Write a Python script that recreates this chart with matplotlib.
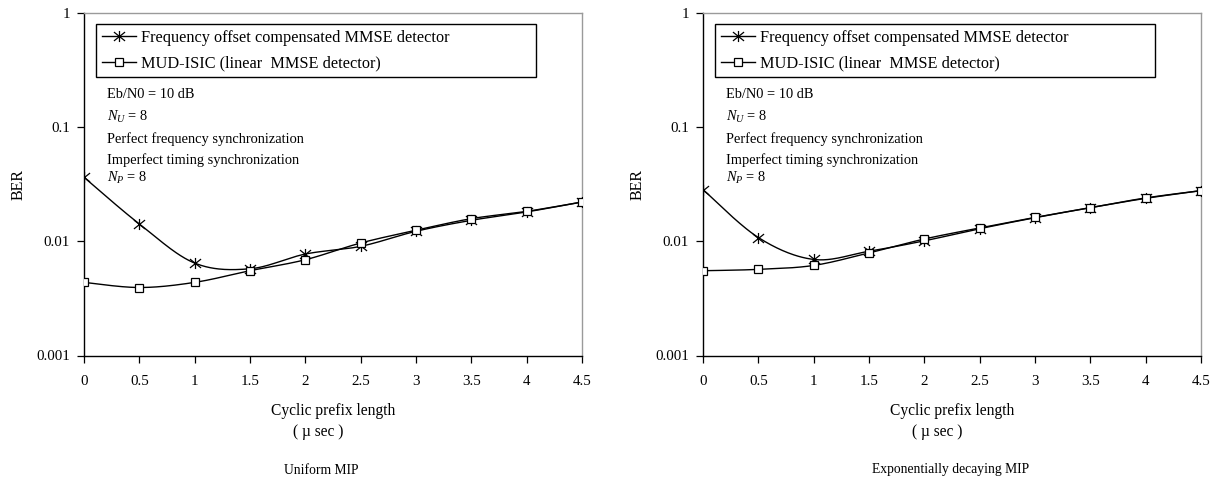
import numpy as np
import matplotlib
matplotlib.use("Agg")
import matplotlib.pyplot as plt
from matplotlib.path import Path
from matplotlib.lines import Line2D

# Cyclic prefix length (micro-seconds)
cp_length = [0, 0.5, 1, 1.5, 2, 2.5, 3, 3.5, 4, 4.5]

# Uniform MIP
uniform_fo_mmse = [0.0364, 0.0142, 0.00645, 0.00575, 0.00774, 0.00904, 0.01225, 0.01528, 0.0181, 0.0221]
uniform_mud_isic = [0.00437, 0.00394, 0.00437, 0.00553, 0.0069, 0.00967, 0.0125, 0.0158, 0.0183, 0.0221]

# Exponentially decaying MIP
expo_fo_mmse = [0.0284, 0.0108, 0.00694, 0.00819, 0.0101, 0.0129, 0.0161, 0.0197, 0.0238, 0.0278]
expo_mud_isic = [0.00553, 0.00568, 0.00615, 0.00792, 0.01048, 0.0131, 0.0162, 0.0197, 0.0240, 0.0278]

series_labels = ["Frequency offset compensated MMSE detector",
                 "MUD-ISIC (linear  MMSE detector)"]
panel_titles = ["Uniform MIP", "Exponentially decaying MIP"]
y_ticks = [0.001, 0.01, 0.1, 1]
y_tick_labels = ["0.001", "0.01", "0.1", "1"]
x_tick_labels = ["0", "0.5", "1", "1.5", "2", "2.5", "3", "3.5", "4", "4.5"]
notes = ["Eb/N0 = 10 dB", r"$N_U$ = 8", "Perfect frequency synchronization",
         "Imperfect timing synchronization", r"$N_P$ = 8"]

W, H = 1223, 484
plt.rcParams["font.family"] = ["Liberation Serif", "DejaVu Serif"]
plt.rcParams["mathtext.fontset"] = "custom"
plt.rcParams["mathtext.it"] = "Liberation Serif:italic"
plt.rcParams["mathtext.rm"] = "Liberation Serif"

# asterisk-like marker: an X with a vertical stroke
star_path = Path(
    [(-1, -0.8), (1, 0.8), (-1, 0.8), (1, -0.8), (0, -1), (0, 1)],
    [Path.MOVETO, Path.LINETO, Path.MOVETO, Path.LINETO, Path.MOVETO, Path.LINETO],
)


def smooth_curve(xs, ys, n=40):
    """Smoothed line through the points (Bezier, tension 1/6) in x / log10(y) space."""
    x = np.asarray(xs, float)
    ly = np.log10(np.asarray(ys, float))
    P = np.column_stack([x, ly])
    m = len(P)
    out = []
    t = np.linspace(0, 1, n)[:, None]
    for i in range(m - 1):
        p0 = P[i - 1] if i > 0 else P[i]
        p1, p2 = P[i], P[i + 1]
        p3 = P[i + 2] if i + 2 < m else P[i + 1]
        c1 = p1 + (p2 - p0) / 6.0
        c2 = p2 - (p3 - p1) / 6.0
        seg = ((1 - t) ** 3) * p1 + 3 * ((1 - t) ** 2) * t * c1 + 3 * (1 - t) * t ** 2 * c2 + t ** 3 * p2
        out.append(seg if i == 0 else seg[1:])
    pts = np.vstack(out)
    return pts[:, 0], 10 ** pts[:, 1]


fig = plt.figure(figsize=(W / 100, H / 100), dpi=100)

panels = [
    (84, uniform_fo_mmse, uniform_mud_isic, panel_titles[0], 0.476),
    (703, expo_fo_mmse, expo_mud_isic, panel_titles[1], 0.497),
]
ax_top, ax_bottom = 13, 355.5
ax_w = 498

for left_px, fo, mud, title, title_frac in panels:
    ax = fig.add_axes([left_px / W, 1 - ax_bottom / H, ax_w / W, (ax_bottom - ax_top) / H])
    ax.set_yscale("log")
    ax.set_xlim(0, 4.5)
    ax.set_ylim(0.001, 1)

    for vals, mk, ms in [(fo, star_path, 8), (mud, "s", 5.5)]:
        sx, sy = smooth_curve(cp_length, vals)
        ax.plot(sx, sy, color="black", lw=1.0, zorder=3)
        ax.plot(cp_length, vals, ls="none", marker=mk, ms=ms, mfc="white",
                mec="black", mew=0.9, zorder=4)

    ax.set_yticks(y_ticks)
    ax.set_yticklabels(y_tick_labels)
    ax.yaxis.set_minor_locator(matplotlib.ticker.NullLocator())
    ax.set_xticks(cp_length)
    ax.set_xticklabels(x_tick_labels)
    ax.tick_params(axis="y", direction="out", length=5, width=0.9, pad=5, labelsize=10.8)
    ax.tick_params(axis="x", direction="out", length=5, width=0.9, pad=9, labelsize=10.8)

    for side in ["left", "bottom"]:
        ax.spines[side].set_color("black")
        ax.spines[side].set_linewidth(1.0)
    for side in ["top", "right"]:
        ax.spines[side].set_color("#9a9a9a")
        ax.spines[side].set_linewidth(1.0)

    handles = [
        Line2D([], [], color="black", lw=1.0, marker=star_path, ms=8, mfc="white", mec="black", mew=0.9),
        Line2D([], [], color="black", lw=1.0, marker="s", ms=5.5, mfc="white", mec="black", mew=0.9),
    ]
    leg = ax.legend(handles, series_labels, loc="upper left",
                    bbox_to_anchor=(12 / ax_w, 1 - (24 - ax_top) / (ax_bottom - ax_top),
                                    440 / ax_w, 0.0),
                    mode="expand", fontsize=11.7, frameon=True, fancybox=False,
                    edgecolor="black", framealpha=1, handlelength=2.1,
                    handletextpad=0.3, borderpad=0.36, labelspacing=0.6,
                    borderaxespad=0.0)
    leg.get_frame().set_linewidth(1.0)

    ax.set_ylabel("BER", fontsize=11.5, labelpad=7)

    cx = (left_px + ax_w / 2) / W
    fig.text(cx, 1 - 411 / H, "Cyclic prefix length", ha="center", va="center", fontsize=11.2)
    fig.text((left_px + ax_w * 0.47) / W, 1 - 432 / H, "( \u00b5 sec )", ha="center", va="center", fontsize=11.2)
    fig.text((left_px + ax_w * title_frac) / W, 1 - 470 / H, title, ha="center", va="center", fontsize=9.8)

    for txt, y in zip(notes, [94, 117, 139, 160, 178]):
        fig.text((left_px + 23) / W, 1 - y / H, txt, ha="left", va="center", fontsize=10.4)

fig.savefig("out.png", dpi=100)
